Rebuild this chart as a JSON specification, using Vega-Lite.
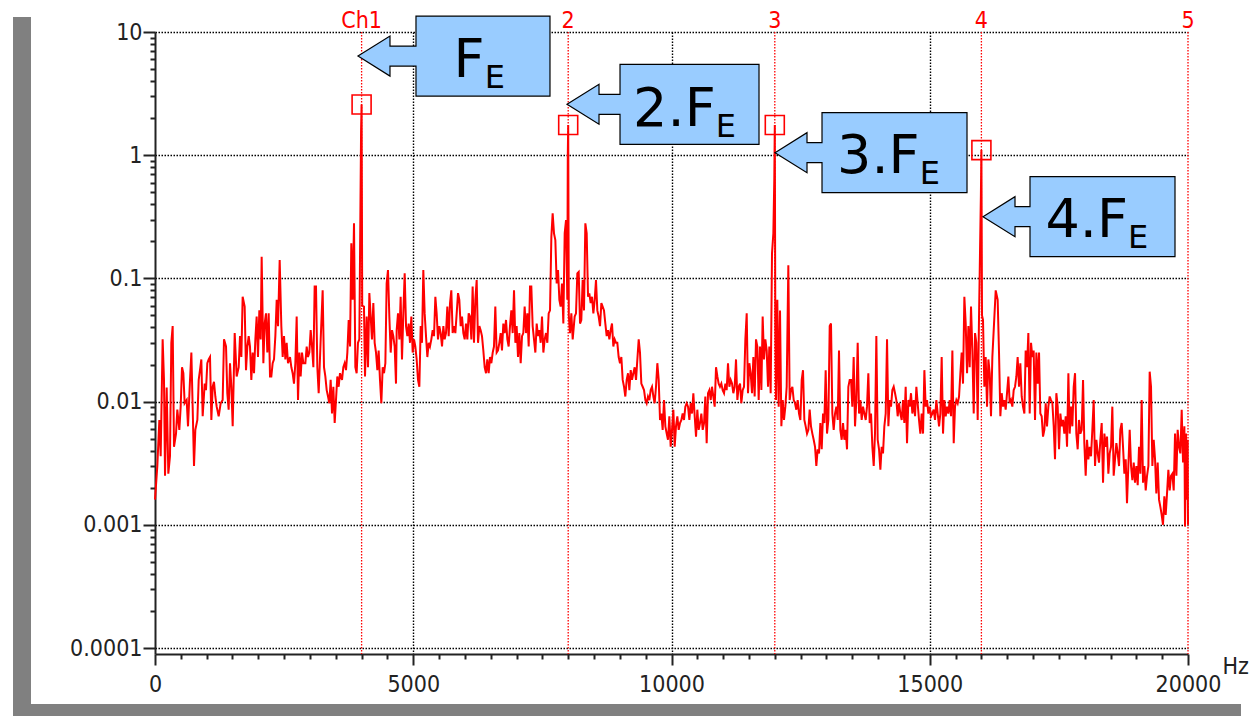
{
  "$schema": "https://vega.github.io/schema/vega-lite/v6.json",
  "width": 1033,
  "height": 622,
  "autosize": {"type": "none"},
  "padding": {"left": 155, "top": 32, "right": 61, "bottom": 62},
  "background": "white",
  "config": {"view": {"stroke": null}},
  "resolve": {"axis": {"x": "independent", "y": "independent"}},
  "datasets": {
    "spec": [
      {"f":0,"a":0.0016},{"f":45,"a":0.0030},{"f":84,"a":0.0071},{"f":110,"a":0.0036},{"f":148,"a":0.032},{"f":174,"a":0.015},{"f":194,"a":0.0025},{"f":226,"a":0.013},{"f":258,"a":0.0026},{"f":290,"a":0.0036},
      {"f":316,"a":0.030},{"f":342,"a":0.041},{"f":368,"a":0.0043},{"f":407,"a":0.0055},{"f":432,"a":0.0086},{"f":471,"a":0.0059},{"f":497,"a":0.0091},{"f":523,"a":0.019},{"f":549,"a":0.017},{"f":574,"a":0.0097},
      {"f":613,"a":0.0103},{"f":639,"a":0.0063},{"f":678,"a":0.015},{"f":704,"a":0.025},{"f":729,"a":0.0091},{"f":755,"a":0.0030},{"f":781,"a":0.0059},{"f":820,"a":0.0071},{"f":846,"a":0.015},{"f":871,"a":0.018},
      {"f":897,"a":0.022},{"f":923,"a":0.0076},{"f":962,"a":0.014},{"f":987,"a":0.0124},{"f":1013,"a":0.0205},{"f":1039,"a":0.022},{"f":1065,"a":0.023},{"f":1091,"a":0.0071},{"f":1117,"a":0.0132},{"f":1142,"a":0.0145},
      {"f":1168,"a":0.011},{"f":1194,"a":0.0091},{"f":1233,"a":0.0076},{"f":1271,"a":0.0097},{"f":1310,"a":0.0103},{"f":1336,"a":0.032},{"f":1375,"a":0.028},{"f":1400,"a":0.0117},{"f":1426,"a":0.0086},{"f":1452,"a":0.0205},
      {"f":1478,"a":0.0132},{"f":1504,"a":0.0063},{"f":1543,"a":0.036},{"f":1581,"a":0.016},{"f":1620,"a":0.019},{"f":1646,"a":0.034},{"f":1672,"a":0.023},{"f":1697,"a":0.071},{"f":1736,"a":0.059},{"f":1762,"a":0.018},
      {"f":1788,"a":0.028},{"f":1814,"a":0.034},{"f":1839,"a":0.028},{"f":1865,"a":0.015},{"f":1891,"a":0.025},{"f":1917,"a":0.017},{"f":1943,"a":0.032},{"f":1968,"a":0.049},{"f":1994,"a":0.023},{"f":2020,"a":0.055},
      {"f":2046,"a":0.032},{"f":2065,"a":0.150},{"f":2098,"a":0.0205},{"f":2123,"a":0.043},{"f":2149,"a":0.052},{"f":2175,"a":0.025},{"f":2201,"a":0.052},{"f":2227,"a":0.016},{"f":2252,"a":0.016},{"f":2278,"a":0.0205},
      {"f":2304,"a":0.022},{"f":2330,"a":0.034},{"f":2356,"a":0.067},{"f":2382,"a":0.041},{"f":2414,"a":0.141},{"f":2446,"a":0.041},{"f":2472,"a":0.023},{"f":2498,"a":0.034},{"f":2524,"a":0.022},{"f":2549,"a":0.030},
      {"f":2575,"a":0.0205},{"f":2614,"a":0.023},{"f":2640,"a":0.019},{"f":2665,"a":0.017},{"f":2691,"a":0.014},{"f":2717,"a":0.0205},{"f":2743,"a":0.049},{"f":2769,"a":0.0103},{"f":2795,"a":0.025},{"f":2820,"a":0.016},
      {"f":2846,"a":0.025},{"f":2872,"a":0.0205},{"f":2911,"a":0.0205},{"f":2937,"a":0.028},{"f":2962,"a":0.023},{"f":2988,"a":0.025},{"f":3014,"a":0.038},{"f":3040,"a":0.028},{"f":3066,"a":0.019},{"f":3091,"a":0.086},
      {"f":3117,"a":0.086},{"f":3143,"a":0.019},{"f":3169,"a":0.0117},{"f":3208,"a":0.032},{"f":3246,"a":0.080},{"f":3272,"a":0.019},{"f":3298,"a":0.016},{"f":3324,"a":0.0124},{"f":3350,"a":0.011},{"f":3375,"a":0.0097},
      {"f":3401,"a":0.015},{"f":3427,"a":0.0080},{"f":3453,"a":0.0132},{"f":3479,"a":0.0067},{"f":3504,"a":0.0103},{"f":3530,"a":0.016},{"f":3556,"a":0.0132},{"f":3582,"a":0.017},{"f":3621,"a":0.015},{"f":3646,"a":0.019},
      {"f":3672,"a":0.0205},{"f":3698,"a":0.018},{"f":3724,"a":0.025},{"f":3750,"a":0.046},{"f":3776,"a":0.028},{"f":3801,"a":0.193},{"f":3827,"a":0.067},{"f":3853,"a":0.28},{"f":3879,"a":0.019},{"f":3904,"a":0.017},
      {"f":3930,"a":0.030},{"f":3956,"a":0.032},{"f":3990,"a":1.6},{"f":4000,"a":2.58},{"f":4012,"a":0.06},
      {"f":4046,"a":0.059},{"f":4066,"a":0.016},{"f":4098,"a":0.049},{"f":4124,"a":0.019},{"f":4150,"a":0.076},{"f":4176,"a":0.049},{"f":4201,"a":0.032},{"f":4227,"a":0.063},{"f":4253,"a":0.030},{"f":4279,"a":0.025},
      {"f":4305,"a":0.018},{"f":4330,"a":0.026},{"f":4356,"a":0.015},{"f":4382,"a":0.0097},{"f":4408,"a":0.019},{"f":4434,"a":0.017},{"f":4460,"a":0.0205},{"f":4485,"a":0.091},{"f":4511,"a":0.117},{"f":4537,"a":0.049},
      {"f":4563,"a":0.025},{"f":4589,"a":0.038},{"f":4614,"a":0.034},{"f":4640,"a":0.028},{"f":4666,"a":0.014},{"f":4679,"a":0.038},{"f":4705,"a":0.052},{"f":4731,"a":0.032},{"f":4756,"a":0.071},{"f":4782,"a":0.022},
      {"f":4808,"a":0.052},{"f":4834,"a":0.110},{"f":4860,"a":0.041},{"f":4886,"a":0.034},{"f":4911,"a":0.043},{"f":4937,"a":0.030},{"f":4963,"a":0.049},{"f":4989,"a":0.025},{"f":5015,"a":0.032},{"f":5040,"a":0.028},
      {"f":5066,"a":0.022},{"f":5092,"a":0.015},{"f":5118,"a":0.0132},{"f":5144,"a":0.041},{"f":5169,"a":0.030},{"f":5195,"a":0.117},{"f":5221,"a":0.052},{"f":5247,"a":0.034},{"f":5273,"a":0.023},{"f":5299,"a":0.030},
      {"f":5324,"a":0.028},{"f":5350,"a":0.032},{"f":5376,"a":0.038},{"f":5402,"a":0.034},{"f":5428,"a":0.071},{"f":5453,"a":0.052},{"f":5479,"a":0.032},{"f":5505,"a":0.041},{"f":5531,"a":0.036},{"f":5557,"a":0.028},
      {"f":5583,"a":0.041},{"f":5608,"a":0.032},{"f":5634,"a":0.036},{"f":5660,"a":0.059},{"f":5686,"a":0.034},{"f":5712,"a":0.063},{"f":5737,"a":0.080},{"f":5763,"a":0.036},{"f":5789,"a":0.041},{"f":5815,"a":0.036},
      {"f":5841,"a":0.052},{"f":5867,"a":0.076},{"f":5892,"a":0.067},{"f":5918,"a":0.041},{"f":5944,"a":0.049},{"f":5970,"a":0.036},{"f":5996,"a":0.032},{"f":6021,"a":0.043},{"f":6047,"a":0.032},{"f":6073,"a":0.052},
      {"f":6099,"a":0.049},{"f":6125,"a":0.032},{"f":6150,"a":0.086},{"f":6176,"a":0.030},{"f":6202,"a":0.067},{"f":6228,"a":0.097},{"f":6254,"a":0.030},{"f":6280,"a":0.041},{"f":6305,"a":0.038},{"f":6331,"a":0.034},
      {"f":6357,"a":0.026},{"f":6383,"a":0.019},{"f":6409,"a":0.017},{"f":6434,"a":0.022},{"f":6460,"a":0.017},{"f":6486,"a":0.023},{"f":6512,"a":0.0205},{"f":6538,"a":0.025},{"f":6563,"a":0.028},{"f":6589,"a":0.059},
      {"f":6615,"a":0.025},{"f":6641,"a":0.026},{"f":6667,"a":0.030},{"f":6693,"a":0.036},{"f":6718,"a":0.026},{"f":6744,"a":0.043},{"f":6770,"a":0.036},{"f":6796,"a":0.046},{"f":6822,"a":0.032},{"f":6847,"a":0.028},
      {"f":6873,"a":0.041},{"f":6899,"a":0.055},{"f":6925,"a":0.036},{"f":6951,"a":0.080},{"f":6977,"a":0.030},{"f":7002,"a":0.041},{"f":7028,"a":0.023},{"f":7054,"a":0.036},{"f":7080,"a":0.0205},{"f":7106,"a":0.034},
      {"f":7131,"a":0.036},{"f":7157,"a":0.059},{"f":7183,"a":0.036},{"f":7209,"a":0.052},{"f":7235,"a":0.028},{"f":7261,"a":0.086},{"f":7286,"a":0.086},{"f":7312,"a":0.041},{"f":7338,"a":0.032},{"f":7364,"a":0.025},
      {"f":7390,"a":0.043},{"f":7415,"a":0.034},{"f":7441,"a":0.038},{"f":7467,"a":0.030},{"f":7493,"a":0.049},{"f":7519,"a":0.025},{"f":7545,"a":0.032},{"f":7570,"a":0.036},{"f":7596,"a":0.030},{"f":7622,"a":0.052},
      {"f":7648,"a":0.055},{"f":7674,"a":0.218},{"f":7699,"a":0.337},{"f":7725,"a":0.232},{"f":7751,"a":0.205},{"f":7777,"a":0.091},{"f":7803,"a":0.117},{"f":7829,"a":0.067},{"f":7854,"a":0.059},{"f":7880,"a":0.091},
      {"f":7906,"a":0.043},{"f":7932,"a":0.232},{"f":7958,"a":0.298},{"f":7983,"a":0.067},{"f":7992,"a":1.0},{"f":8000,"a":1.76},{"f":8012,"a":0.05},
      {"f":8035,"a":0.036},{"f":8061,"a":0.052},{"f":8087,"a":0.032},{"f":8125,"a":0.049},{"f":8151,"a":0.052},{"f":8177,"a":0.110},{"f":8203,"a":0.113},{"f":8229,"a":0.043},{"f":8254,"a":0.046},{"f":8280,"a":0.097},
      {"f":8306,"a":0.055},{"f":8332,"a":0.28},{"f":8358,"a":0.232},{"f":8384,"a":0.071},{"f":8409,"a":0.0757},{"f":8435,"a":0.063},{"f":8461,"a":0.071},{"f":8487,"a":0.052},{"f":8513,"a":0.067},{"f":8538,"a":0.097},
      {"f":8564,"a":0.055},{"f":8590,"a":0.049},{"f":8616,"a":0.041},{"f":8642,"a":0.063},{"f":8667,"a":0.059},{"f":8693,"a":0.055},{"f":8719,"a":0.043},{"f":8745,"a":0.034},{"f":8771,"a":0.038},{"f":8797,"a":0.032},
      {"f":8822,"a":0.038},{"f":8848,"a":0.043},{"f":8874,"a":0.028},{"f":8900,"a":0.032},{"f":8926,"a":0.030},{"f":8951,"a":0.030},{"f":8977,"a":0.023},{"f":9003,"a":0.0205},{"f":9029,"a":0.023},{"f":9055,"a":0.015},
      {"f":9081,"a":0.0132},{"f":9106,"a":0.011},{"f":9132,"a":0.015},{"f":9158,"a":0.017},{"f":9184,"a":0.0124},{"f":9210,"a":0.018},{"f":9235,"a":0.015},{"f":9261,"a":0.017},{"f":9287,"a":0.019},{"f":9313,"a":0.015},
      {"f":9339,"a":0.022},{"f":9365,"a":0.032},{"f":9390,"a":0.025},{"f":9416,"a":0.014},{"f":9442,"a":0.0132},{"f":9468,"a":0.0124},{"f":9494,"a":0.0103},{"f":9519,"a":0.0097},{"f":9545,"a":0.011},{"f":9571,"a":0.0103},
      {"f":9597,"a":0.0124},{"f":9623,"a":0.0132},{"f":9649,"a":0.011},{"f":9674,"a":0.0097},{"f":9700,"a":0.0132},{"f":9726,"a":0.0205},{"f":9752,"a":0.015},{"f":9778,"a":0.0071},{"f":9803,"a":0.0080},{"f":9829,"a":0.0059},
      {"f":9855,"a":0.0103},{"f":9881,"a":0.0063},{"f":9907,"a":0.0055},{"f":9932,"a":0.0049},{"f":9958,"a":0.0076},{"f":9984,"a":0.0043},{"f":10010,"a":0.0059},{"f":10036,"a":0.0086},{"f":10062,"a":0.0043},{"f":10087,"a":0.0063},
      {"f":10113,"a":0.0076},{"f":10139,"a":0.0059},{"f":10165,"a":0.0067},{"f":10191,"a":0.0071},{"f":10216,"a":0.0080},{"f":10242,"a":0.0071},{"f":10268,"a":0.0091},{"f":10294,"a":0.0097},{"f":10320,"a":0.0091},{"f":10346,"a":0.0071},
      {"f":10371,"a":0.0097},{"f":10397,"a":0.0080},{"f":10423,"a":0.0117},{"f":10449,"a":0.0076},{"f":10475,"a":0.0052},{"f":10500,"a":0.0086},{"f":10526,"a":0.0059},{"f":10552,"a":0.0067},{"f":10578,"a":0.0080},{"f":10604,"a":0.0059},
      {"f":10630,"a":0.0067},{"f":10655,"a":0.011},{"f":10681,"a":0.0046},{"f":10707,"a":0.0117},{"f":10733,"a":0.0124},{"f":10759,"a":0.0103},{"f":10784,"a":0.0132},{"f":10810,"a":0.011},{"f":10836,"a":0.0091},{"f":10862,"a":0.019},
      {"f":10888,"a":0.016},{"f":10913,"a":0.014},{"f":10939,"a":0.0132},{"f":10965,"a":0.014},{"f":10991,"a":0.0124},{"f":11017,"a":0.0117},{"f":11043,"a":0.014},{"f":11068,"a":0.0124},{"f":11094,"a":0.0205},{"f":11120,"a":0.0132},
      {"f":11146,"a":0.015},{"f":11172,"a":0.014},{"f":11197,"a":0.0117},{"f":11223,"a":0.0132},{"f":11249,"a":0.022},{"f":11275,"a":0.0103},{"f":11301,"a":0.0132},{"f":11327,"a":0.014},{"f":11352,"a":0.0097},{"f":11378,"a":0.0124},
      {"f":11404,"a":0.0132},{"f":11430,"a":0.032},{"f":11456,"a":0.052},{"f":11481,"a":0.0117},{"f":11507,"a":0.0205},{"f":11533,"a":0.017},{"f":11559,"a":0.0117},{"f":11585,"a":0.023},{"f":11610,"a":0.011},{"f":11636,"a":0.032},
      {"f":11662,"a":0.028},{"f":11688,"a":0.0103},{"f":11714,"a":0.028},{"f":11740,"a":0.0124},{"f":11765,"a":0.049},{"f":11791,"a":0.022},{"f":11817,"a":0.032},{"f":11843,"a":0.026},{"f":11869,"a":0.0132},{"f":11894,"a":0.028},
      {"f":11920,"a":0.0117},{"f":11946,"a":0.16},{"f":11972,"a":0.232},{"f":11990,"a":0.63},{"f":12000,"a":1.76},{"f":12010,"a":0.04},{"f":12024,"a":0.0103},{"f":12049,"a":0.067},{"f":12075,"a":0.0091},{"f":12101,"a":0.055},
      {"f":12127,"a":0.0063},{"f":12153,"a":0.0103},{"f":12178,"a":0.0071},{"f":12204,"a":0.0091},{"f":12230,"a":0.0132},{"f":12262,"a":0.128},{"f":12288,"a":0.0103},{"f":12314,"a":0.0124},{"f":12340,"a":0.0132},{"f":12366,"a":0.0103},
      {"f":12391,"a":0.0097},{"f":12417,"a":0.0086},{"f":12443,"a":0.0103},{"f":12469,"a":0.0080},{"f":12495,"a":0.0071},{"f":12521,"a":0.015},{"f":12546,"a":0.018},{"f":12572,"a":0.0071},{"f":12598,"a":0.0063},{"f":12624,"a":0.0055},
      {"f":12650,"a":0.0059},{"f":12675,"a":0.0086},{"f":12701,"a":0.0063},{"f":12727,"a":0.0055},{"f":12753,"a":0.0049},{"f":12779,"a":0.0043},{"f":12804,"a":0.0030},{"f":12830,"a":0.0041},{"f":12856,"a":0.0038},{"f":12882,"a":0.0067},
      {"f":12908,"a":0.0041},{"f":12934,"a":0.0080},{"f":12959,"a":0.0067},{"f":12985,"a":0.018},{"f":13011,"a":0.0055},{"f":13037,"a":0.0071},{"f":13063,"a":0.041},{"f":13088,"a":0.043},{"f":13114,"a":0.0080},{"f":13140,"a":0.0059},
      {"f":13166,"a":0.0080},{"f":13192,"a":0.0091},{"f":13218,"a":0.0071},{"f":13243,"a":0.026},{"f":13269,"a":0.0059},{"f":13295,"a":0.0049},{"f":13321,"a":0.0067},{"f":13347,"a":0.0049},{"f":13372,"a":0.0059},{"f":13398,"a":0.0041},
      {"f":13424,"a":0.0132},{"f":13450,"a":0.015},{"f":13476,"a":0.015},{"f":13501,"a":0.0091},{"f":13527,"a":0.023},{"f":13553,"a":0.0063},{"f":13579,"a":0.0103},{"f":13605,"a":0.030},{"f":13631,"a":0.0080},{"f":13656,"a":0.0103},
      {"f":13682,"a":0.0071},{"f":13708,"a":0.0091},{"f":13734,"a":0.0080},{"f":13760,"a":0.0071},{"f":13785,"a":0.0091},{"f":13811,"a":0.017},{"f":13837,"a":0.0067},{"f":13863,"a":0.0080},{"f":13889,"a":0.0043},{"f":13915,"a":0.0030},
      {"f":13940,"a":0.0055},{"f":13966,"a":0.034},{"f":13992,"a":0.0049},{"f":14018,"a":0.0041},{"f":14044,"a":0.0028},{"f":14069,"a":0.0043},{"f":14095,"a":0.0038},{"f":14121,"a":0.0063},{"f":14147,"a":0.0080},{"f":14173,"a":0.032},
      {"f":14199,"a":0.0063},{"f":14224,"a":0.0103},{"f":14250,"a":0.0091},{"f":14276,"a":0.0124},{"f":14302,"a":0.0132},{"f":14328,"a":0.0117},{"f":14353,"a":0.0103},{"f":14379,"a":0.0076},{"f":14405,"a":0.0097},{"f":14431,"a":0.0080},
      {"f":14457,"a":0.0071},{"f":14483,"a":0.0103},{"f":14508,"a":0.0067},{"f":14534,"a":0.0132},{"f":14560,"a":0.0046},{"f":14586,"a":0.0103},{"f":14612,"a":0.0091},{"f":14637,"a":0.0117},{"f":14663,"a":0.0080},{"f":14689,"a":0.0103},
      {"f":14715,"a":0.0076},{"f":14741,"a":0.0132},{"f":14766,"a":0.0097},{"f":14792,"a":0.0071},{"f":14818,"a":0.0055},{"f":14844,"a":0.0080},{"f":14870,"a":0.0055},{"f":14896,"a":0.018},{"f":14921,"a":0.0091},{"f":14947,"a":0.0103},
      {"f":14973,"a":0.0080},{"f":14999,"a":0.0091},{"f":15025,"a":0.0076},{"f":15050,"a":0.0080},{"f":15076,"a":0.0086},{"f":15102,"a":0.0071},{"f":15128,"a":0.0103},{"f":15154,"a":0.0080},{"f":15180,"a":0.0063},{"f":15205,"a":0.0080},
      {"f":15231,"a":0.023},{"f":15257,"a":0.0055},{"f":15283,"a":0.0103},{"f":15309,"a":0.0076},{"f":15334,"a":0.0091},{"f":15360,"a":0.0080},{"f":15386,"a":0.0103},{"f":15412,"a":0.0076},{"f":15438,"a":0.026},{"f":15464,"a":0.0046},
      {"f":15489,"a":0.0091},{"f":15515,"a":0.0103},{"f":15541,"a":0.0097},{"f":15567,"a":0.011},{"f":15593,"a":0.017},{"f":15618,"a":0.025},{"f":15644,"a":0.014},{"f":15670,"a":0.071},{"f":15696,"a":0.043},{"f":15722,"a":0.017},
      {"f":15748,"a":0.041},{"f":15773,"a":0.019},{"f":15799,"a":0.059},{"f":15825,"a":0.026},{"f":15851,"a":0.0080},{"f":15877,"a":0.036},{"f":15902,"a":0.030},{"f":15928,"a":0.0071},{"f":15954,"a":0.049},{"f":15990,"a":0.47},
      {"f":16000,"a":1.1},{"f":16012,"a":0.05},{"f":16031,"a":0.046},{"f":16057,"a":0.0132},{"f":16083,"a":0.023},{"f":16109,"a":0.0091},{"f":16135,"a":0.022},{"f":16161,"a":0.017},{"f":16186,"a":0.0076},{"f":16212,"a":0.023},
      {"f":16277,"a":0.080},{"f":16315,"a":0.067},{"f":16341,"a":0.025},{"f":16367,"a":0.0076},{"f":16393,"a":0.0117},{"f":16419,"a":0.0091},{"f":16444,"a":0.0103},{"f":16470,"a":0.0086},{"f":16496,"a":0.0117},{"f":16522,"a":0.016},
      {"f":16548,"a":0.0097},{"f":16573,"a":0.0103},{"f":16599,"a":0.0091},{"f":16625,"a":0.0124},{"f":16651,"a":0.0132},{"f":16677,"a":0.016},{"f":16702,"a":0.023},{"f":16728,"a":0.0132},{"f":16754,"a":0.0205},{"f":16780,"a":0.011},
      {"f":16806,"a":0.0091},{"f":16832,"a":0.0080},{"f":16857,"a":0.026},{"f":16883,"a":0.019},{"f":16909,"a":0.036},{"f":16935,"a":0.0080},{"f":16961,"a":0.030},{"f":16986,"a":0.023},{"f":17012,"a":0.026},{"f":17038,"a":0.0071},
      {"f":17064,"a":0.025},{"f":17090,"a":0.014},{"f":17116,"a":0.025},{"f":17141,"a":0.0080},{"f":17167,"a":0.0076},{"f":17193,"a":0.0052},{"f":17219,"a":0.0059},{"f":17245,"a":0.0097},{"f":17270,"a":0.0063},{"f":17296,"a":0.0091},
      {"f":17322,"a":0.011},{"f":17348,"a":0.0103},{"f":17374,"a":0.0097},{"f":17400,"a":0.0063},{"f":17425,"a":0.0034},{"f":17451,"a":0.0117},{"f":17477,"a":0.0091},{"f":17503,"a":0.0041},{"f":17529,"a":0.0080},{"f":17554,"a":0.0063},
      {"f":17580,"a":0.0071},{"f":17606,"a":0.0055},{"f":17632,"a":0.0076},{"f":17658,"a":0.0043},{"f":17684,"a":0.017},{"f":17709,"a":0.0055},{"f":17735,"a":0.0091},{"f":17761,"a":0.0063},{"f":17787,"a":0.0132},{"f":17813,"a":0.017},
      {"f":17838,"a":0.0055},{"f":17864,"a":0.0041},{"f":17890,"a":0.0071},{"f":17916,"a":0.0055},{"f":17942,"a":0.0059},{"f":17968,"a":0.015},{"f":17993,"a":0.0046},{"f":18019,"a":0.0025},{"f":18045,"a":0.0049},{"f":18071,"a":0.0034},
      {"f":18097,"a":0.0043},{"f":18122,"a":0.0036},{"f":18148,"a":0.0059},{"f":18174,"a":0.0103},{"f":18200,"a":0.0030},{"f":18226,"a":0.0049},{"f":18252,"a":0.0038},{"f":18277,"a":0.0032},{"f":18303,"a":0.0049},{"f":18329,"a":0.0067},
      {"f":18355,"a":0.0022},{"f":18381,"a":0.0055},{"f":18406,"a":0.0043},{"f":18432,"a":0.0052},{"f":18458,"a":0.0026},{"f":18484,"a":0.0038},{"f":18510,"a":0.0043},{"f":18535,"a":0.0091},{"f":18561,"a":0.0025},{"f":18587,"a":0.0034},
      {"f":18613,"a":0.0046},{"f":18639,"a":0.0038},{"f":18665,"a":0.0030},{"f":18690,"a":0.0059},{"f":18716,"a":0.0067},{"f":18742,"a":0.0043},{"f":18768,"a":0.0026},{"f":18794,"a":0.0034},{"f":18819,"a":0.0015},{"f":18845,"a":0.0030},
      {"f":18871,"a":0.0059},{"f":18897,"a":0.0030},{"f":18923,"a":0.0023},{"f":18949,"a":0.0032},{"f":18974,"a":0.0022},{"f":19000,"a":0.0030},{"f":19026,"a":0.0021},{"f":19052,"a":0.0043},{"f":19078,"a":0.0026},{"f":19103,"a":0.0103},
      {"f":19129,"a":0.0022},{"f":19155,"a":0.0030},{"f":19181,"a":0.0019},{"f":19207,"a":0.0025},{"f":19233,"a":0.0030},{"f":19258,"a":0.0175},{"f":19284,"a":0.0132},{"f":19310,"a":0.0030},{"f":19336,"a":0.0049},{"f":19362,"a":0.0034},
      {"f":19387,"a":0.0018},{"f":19413,"a":0.0032},{"f":19439,"a":0.0016},{"f":19465,"a":0.0014},{"f":19491,"a":0.0012},{"f":19516,"a":0.0010},{"f":19542,"a":0.0017},{"f":19568,"a":0.0012},{"f":19594,"a":0.0018},{"f":19620,"a":0.0028},
      {"f":19646,"a":0.0019},{"f":19671,"a":0.0025},{"f":19697,"a":0.0026},{"f":19723,"a":0.0019},{"f":19749,"a":0.0055},{"f":19775,"a":0.0025},{"f":19800,"a":0.0059},{"f":19826,"a":0.0043},{"f":19852,"a":0.0038},{"f":19878,"a":0.0086},
      {"f":19904,"a":0.0032},{"f":19930,"a":0.0063},{"f":19942,"a":0.00097},{"f":19962,"a":0.0055},{"f":19981,"a":0.0016},{"f":19994,"a":0.0049},{"f":20000,"a":0.0010}
    ],
    "markers": [
      {"f": 4000, "name": "Ch1", "peak": 2.58},
      {"f": 8000, "name": "2", "peak": 1.76},
      {"f": 12000, "name": "3", "peak": 1.76},
      {"f": 16000, "name": "4", "peak": 1.1},
      {"f": 20000, "name": "5"}
    ],
    "callouts": [
      {"k": "c1", "tipF": 3930, "tipA": 6.38, "txtF": 6383, "txtA": 4.29, "main": "F", "sub": "E"},
      {"k": "c2", "tipF": 7977, "tipA": 2.59, "txtF": 10856, "txtA": 1.726, "main": "2.F", "sub": "E"},
      {"k": "c3", "tipF": 12004, "tipA": 1.048, "txtF": 14805, "txtA": 0.713, "main": "3.F", "sub": "E"},
      {"k": "c4", "tipF": 16031, "tipA": 0.317, "txtF": 18838, "txtA": 0.2157, "main": "4.F", "sub": "E"}
    ]
  },
  "layer": [
    {
      "data": {"values": [{}]},
      "mark": {"type": "rect", "color": "#808080"},
      "encoding": {
        "x": {"datum": -2749, "type": "quantitative", "axis": null},
        "x2": {"datum": -2401},
        "y": {"datum": 13.24, "type": "quantitative", "axis": null},
        "y2": {"datum": 0.0000281}
      }
    },
    {
      "data": {"values": [{}]},
      "mark": {"type": "rect", "color": "#808080"},
      "encoding": {
        "x": {"datum": -2749, "type": "quantitative", "axis": null},
        "x2": {"datum": 21026},
        "y": {"datum": 0.0000351, "type": "quantitative", "axis": null},
        "y2": {"datum": 0.0000281}
      }
    },
    {
      "data": {"name": "spec"},
      "mark": {"type": "line", "color": "#ff0000", "strokeWidth": 2},
      "encoding": {
        "x": {
          "field": "f", "type": "quantitative",
          "scale": {"domain": [0, 20000], "nice": false, "zero": false},
          "axis": {
            "orient": "bottom",
            "title": "Hz",
            "titleFont": "Liberation Sans Narrow, Arial Narrow, DejaVu Sans Condensed, sans-serif",
            "titleFontSize": 23, "titleFontWeight": "normal", "titleColor": "#222",
            "titleAlign": "left", "titleBaseline": "alphabetic", "titleX": 1067, "titleY": 19, "titleAnchor": "start",
            "values": [0, 5000, 10000, 15000, 20000],
            "format": "d",
            "tickSize": 11,
            "grid": false,
            "domainColor": "#222", "domainWidth": 2, "tickColor": "#222", "tickWidth": 2,
            "labelFont": "Liberation Sans Narrow, Arial Narrow, DejaVu Sans Condensed, sans-serif",
            "labelFontSize": 23, "labelColor": "#222", "labelPadding": 8,
            "labelFlush": false, "labelOverlap": false, "labelBound": false
          }
        },
        "y": {
          "field": "a", "type": "quantitative",
          "scale": {"type": "log", "domain": [0.0000894, 10], "nice": false},
          "axis": {
            "orient": "left",
            "title": null,
            "values": [0.0001, 0.001, 0.01, 0.1, 1, 10],
            "labelExpr": "datum.value === 10 ? '10' : datum.value === 1 ? '1' : datum.value === 0.1 ? '0.1' : datum.value === 0.01 ? '0.01' : datum.value === 0.001 ? '0.001' : '0.0001'",
            "tickSize": 12,
            "grid": true,
            "gridColor": "#000", "gridDash": [1.5, 1.5], "gridWidth": 1.4,
            "domainColor": "#222", "domainWidth": 2, "tickColor": "#222", "tickWidth": 2,
            "labelFont": "Liberation Sans Narrow, Arial Narrow, DejaVu Sans Condensed, sans-serif",
            "labelFontSize": 23, "labelColor": "#222", "labelPadding": 1,
            "labelFlush": false, "labelOverlap": false, "labelBound": false
          }
        }
      }
    },
    {
      "data": {"name": "markers"},
      "mark": {"type": "rule", "color": "#ff0000", "strokeDash": [1.5, 1.5], "strokeWidth": 1.3},
      "encoding": {
        "x": {"field": "f", "type": "quantitative", "axis": null}
      }
    },
    {
      "data": {"name": "markers"},
      "mark": {"type": "text", "color": "#ff0000", "align": "center", "baseline": "alphabetic", "dy": -4, "fontSize": 23, "font": "Liberation Sans Narrow, Arial Narrow, DejaVu Sans Condensed, sans-serif"},
      "encoding": {
        "x": {
          "field": "f", "type": "quantitative",
          "axis": {
            "orient": "bottom", "title": null, "labels": false, "domain": false, "ticks": false,
            "grid": true, "gridColor": "#000", "gridDash": [1.5, 1.5], "gridWidth": 1.4,
            "values": [5000, 10000, 15000]
          }
        },
        "y": {"datum": 10, "type": "quantitative", "axis": null},
        "text": {"field": "name"}
      }
    },
    {
      "data": {"name": "markers"},
      "transform": [{"filter": "isValid(datum.peak)"}],
      "mark": {"type": "point", "shape": "square", "size": 361, "filled": false, "stroke": "#ff0000", "strokeWidth": 1.6, "opacity": 1},
      "encoding": {
        "x": {
          "field": "f", "type": "quantitative",
          "axis": {
            "orient": "bottom", "title": null, "labels": false, "domain": false, "grid": false,
            "tickSize": 5, "tickWidth": 2, "tickColor": "#222",
            "values": [500,1000,1500,2000,2500,3000,3500,4000,4500,5500,6000,6500,7000,7500,8000,8500,9000,9500,10500,11000,11500,12000,12500,13000,13500,14000,14500,15500,16000,16500,17000,17500,18000,18500,19000,19500]
          }
        },
        "y": {
          "field": "peak", "type": "quantitative",
          "axis": {
            "orient": "left", "title": null, "labels": false, "domain": false, "grid": false,
            "tickSize": 5, "tickWidth": 2, "tickColor": "#222",
            "values": [0.0002,0.0003,0.0004,0.0005,0.0006,0.0007,0.0008,0.0009,0.002,0.003,0.004,0.005,0.006,0.007,0.008,0.009,0.02,0.03,0.04,0.05,0.06,0.07,0.08,0.09,0.2,0.3,0.4,0.5,0.6,0.7,0.8,0.9,2,3,4,5,6,7,8,9]
          }
        }
      }
    },
    {
      "data": {"name": "callouts"},
      "mark": {"type": "point", "filled": true, "fill": "#99ccff", "stroke": "#000", "strokeWidth": 1.2, "opacity": 1, "fillOpacity": 1, "strokeOpacity": 1, "size": 4},
      "encoding": {
        "x": {"field": "tipF", "type": "quantitative", "axis": null},
        "y": {"field": "tipA", "type": "quantitative", "axis": null},
        "shape": {
          "field": "k", "type": "nominal", "legend": null,
          "scale": {
            "domain": ["c1", "c2", "c3", "c4"],
            "range": [
              "M0,0L32,-20L32,-10L58,-10L58,-40L192,-40L192,40L58,40L58,10L32,10L32,20Z",
              "M0,0L32,-20L32,-10L53,-10L53,-40L192,-40L192,40L53,40L53,10L32,10L32,20Z",
              "M0,0L32,-20L32,-10L47,-10L47,-40L192,-40L192,40L47,40L47,10L32,10L32,20Z",
              "M0,0L32,-20L32,-10L47,-10L47,-40L192,-40L192,40L47,40L47,10L32,10L32,20Z"
            ]
          }
        }
      }
    },
    {
      "data": {"name": "callouts"},
      "mark": {"type": "text", "align": "right", "baseline": "alphabetic", "font": "DejaVu Sans", "fontSize": 54, "color": "#000"},
      "encoding": {
        "x": {"field": "txtF", "type": "quantitative", "axis": null},
        "y": {"field": "txtA", "type": "quantitative", "axis": null},
        "text": {"field": "main"}
      }
    },
    {
      "data": {"name": "callouts"},
      "mark": {"type": "text", "align": "left", "baseline": "alphabetic", "font": "DejaVu Sans", "fontSize": 32, "color": "#000", "dx": 0, "dy": 11},
      "encoding": {
        "x": {"field": "txtF", "type": "quantitative", "axis": null},
        "y": {"field": "txtA", "type": "quantitative", "axis": null},
        "text": {"field": "sub"}
      }
    }
  ]
}
